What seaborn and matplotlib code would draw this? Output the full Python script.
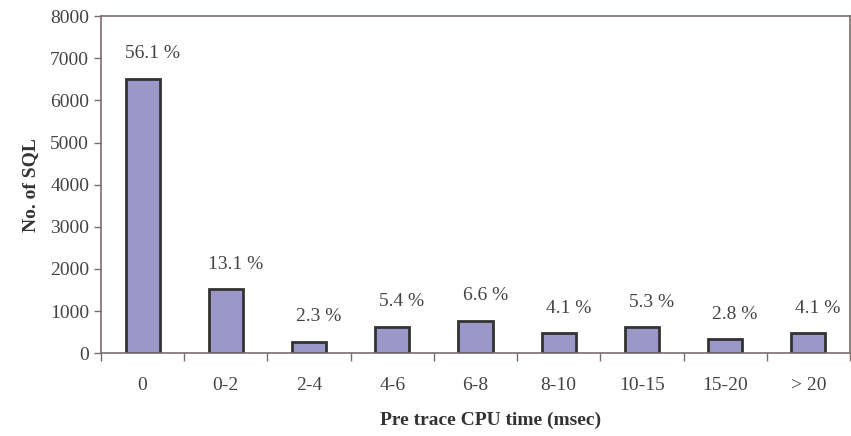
import matplotlib
matplotlib.use("Agg")
import matplotlib.pyplot as plt
import pandas as pd
import seaborn as sns
from matplotlib.ticker import FixedLocator, NullFormatter

categories = ["0", "0-2", "2-4", "4-6", "6-8", "8-10", "10-15", "15-20", "> 20"]
counts = [6510, 1520, 267, 626, 766, 476, 615, 325, 476]
percent_labels = ["56.1 %", "13.1 %", "2.3 %", "5.4 %", "6.6 %", "4.1 %", "5.3 %", "2.8 %", "4.1 %"]

sns.set_style("ticks")
plt.rcParams['font.family'] = ['Liberation Serif', 'DejaVu Serif']

df = pd.DataFrame({"Range": categories, "Count": counts})

fig = plt.figure(figsize=(8.51, 4.36), dpi=100)
ax = fig.add_axes([0.1187, 0.190, 0.8801, 0.773])

text_col = "#444444"
spine_col = "#7a6c6c"

sns.barplot(data=df, x="Range", y="Count", color="#9c97c9", width=0.41,
            edgecolor="#333333", linewidth=2, saturation=1, ax=ax)

for i, (v, lab) in enumerate(zip(counts, percent_labels)):
    ax.annotate(lab, xy=(i, v), xytext=(7, 18), textcoords="offset points",
                ha="center", va="center", fontsize=14, color=text_col)

ax.set_xlim(-0.5, len(categories) - 0.5)
ax.set_ylim(0, 8000)
ax.set_yticks(range(0, 8001, 1000))

# category ticks sit between bars
ax.tick_params(axis="x", which="major", length=0, pad=17, labelsize=14, labelcolor=text_col)
ax.xaxis.set_minor_locator(FixedLocator([i - 0.5 for i in range(len(categories) + 1)]))
ax.xaxis.set_minor_formatter(NullFormatter())
ax.tick_params(axis="x", which="minor", length=6, width=1, color=spine_col)
ax.tick_params(axis="y", length=5, width=1, color=spine_col, labelsize=14, labelcolor=text_col)

for s in ax.spines.values():
    s.set_visible(True)
    s.set_color(spine_col)
    s.set_linewidth(1.2)

ax.set_xlabel("Pre trace CPU time (msec)", fontsize=14, fontweight="bold", color="#333333")
ax.xaxis.set_label_coords(0.52, -0.175)
ax.set_ylabel("No. of SQL", fontsize=14, fontweight="bold", color="#333333", labelpad=8)

plt.savefig("out.png", dpi=100, facecolor="white")
